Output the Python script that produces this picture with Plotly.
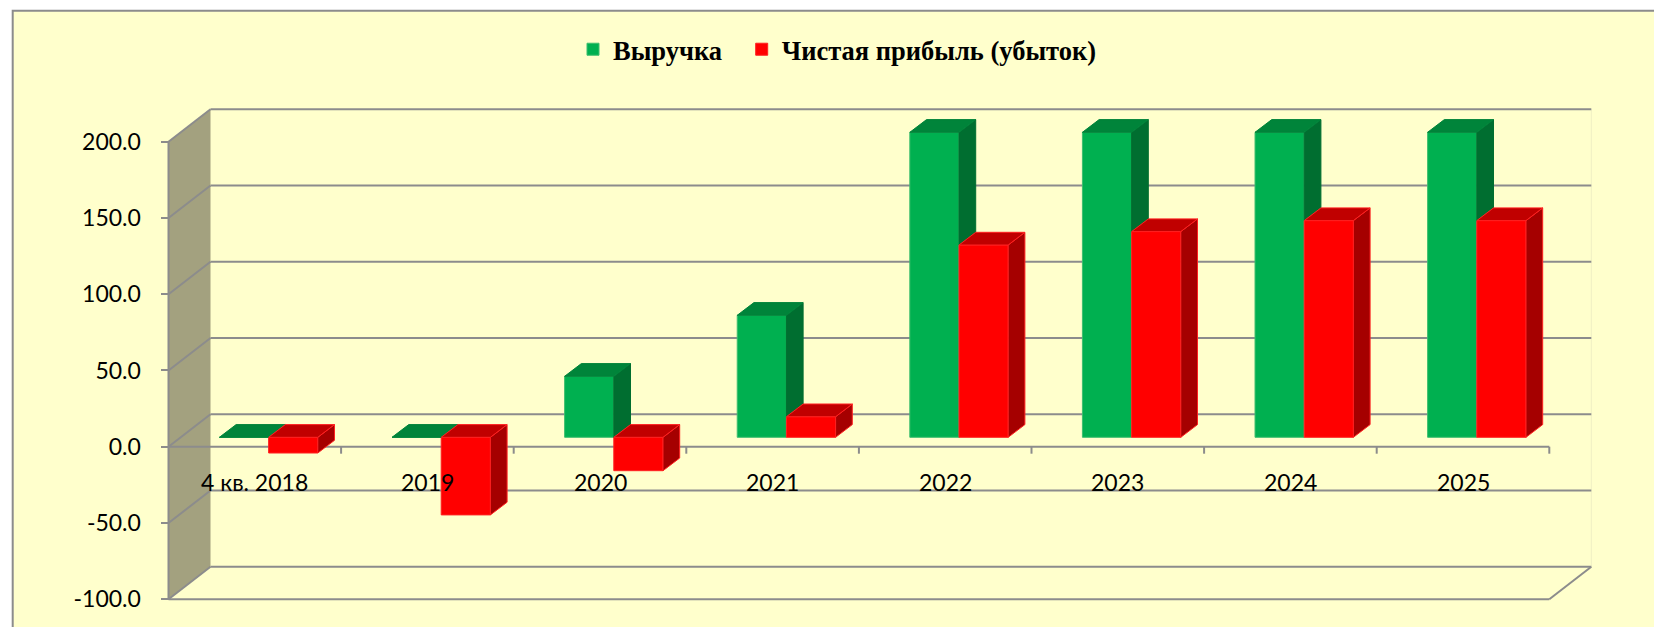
import plotly.graph_objects as go

# ---------------- data ----------------
categories = ["4 кв. 2018", "2019", "2020", "2021", "2022", "2023", "2024", "2025"]
revenue = [0, 0, 40, 80, 200, 200, 200, 200]
net_profit = [-10.3, -50.9, -21.9, 13.5, 126.1, 134.9, 142.1, 142.1]
series_names = ["Выручка", "Чистая прибыль (убыток)"]
y_tickvals = [-100, -50, 0, 50, 100, 150, 200]
y_ticktext = ["-100.0", "-50.0", "0.0", "50.0", "100.0", "150.0", "200.0"]

# ---------------- style / geometry ----------------
W, H = 1654, 627
PX_PER_CAT = 172.6
PX_PER_UNIT = 1.525
X0_PX = 168.5          # pixel of front axis (category -0.5)
Y0_PX = 446.7          # pixel of front zero line
X_RANGE = [-0.5 - X0_PX / PX_PER_CAT, -0.5 + (W - X0_PX) / PX_PER_CAT]
Y_RANGE = [-(H - Y0_PX) / PX_PER_UNIT, Y0_PX / PX_PER_UNIT]

BACK_DX = 42 / PX_PER_CAT       # depth offset of back wall
BACK_DY = 32.4 / PX_PER_UNIT
BAR_SHIFT = 0.08
BAR_W = 0.285
BAR_BASE = 9.4 / PX_PER_UNIT    # bars sit in the middle depth
DEPTH_DX = 16.7 / PX_PER_CAT
DEPTH_DY = 12.7 / PX_PER_UNIT

GRID = "#8C8C8C"
BG = "#FFFFCC"
WALL = "#A3A17F"
FONT = "Lato"
LEGEND_X_PX = [573, 741.7]

colors = [
    dict(front="#00B050", side="#006E30", top="#00843A", edge="#3DBE6E"),
    dict(front="#FF0000", side="#A50000", top="#C00000", edge="#FF2020"),
]
series_vals = [revenue, net_profit]
n = len(categories)
idx = list(range(n))

fig = go.Figure()

# front faces as real bars
for s, vals in enumerate(series_vals):
    fig.add_trace(go.Bar(
        x=[i + BAR_SHIFT + (s - 0.5) * BAR_W for i in idx],
        y=vals,
        base=[BAR_BASE] * n,
        width=BAR_W,
        name=series_names[s],
        legend="legend" if s == 0 else "legend2",
        marker=dict(color=colors[s]["front"], line=dict(color=colors[s]["edge"], width=1)),
        hovertext=categories,
        hoverinfo="text+y",
    ))

# 3D side and top faces computed from the data
def faces(s, vals, cover_levels=None):
    sx, sy, tx, ty = [], [], [], []
    for i, v in zip(idx, vals):
        L = i + BAR_SHIFT + (s - 1) * BAR_W
        R = L + BAR_W
        lo = BAR_BASE + min(v, 0)
        hi = BAR_BASE + max(v, 0)
        if cover_levels is not None:
            lo = max(lo, cover_levels[i])
        if hi > lo:
            sx += [R, R + DEPTH_DX, R + DEPTH_DX, R, R, None]
            sy += [lo, lo + DEPTH_DY, hi + DEPTH_DY, hi, lo, None]
        t = BAR_BASE + max(v, 0)
        tx += [L, R, R + DEPTH_DX, L + DEPTH_DX, L, None]
        ty += [t, t, t + DEPTH_DY, t + DEPTH_DY, t, None]
    return sx, sy, tx, ty

red_tops = [BAR_BASE + max(v, 0) for v in net_profit]
for s, vals in enumerate(series_vals):
    sx, sy, tx, ty = faces(s, vals, red_tops if s == 0 else None)
    for xs, ys, c in ((sx, sy, colors[s]["side"]), (tx, ty, colors[s]["top"])):
        if xs:
            fig.add_trace(go.Scatter(
                x=xs, y=ys, mode="lines", fill="toself", fillcolor=c,
                line=dict(color=colors[s]["edge"] if s == 1 else c, width=1),
                hoverinfo="skip", showlegend=False,
            ))

# ---------------- chart frame (walls, gridlines, axes) ----------------
shapes = []
shapes.append(dict(type="rect", xref="paper", yref="paper",
                   x0=12.7 / W, x1=1.02, y0=-0.02, y1=1 - 10.8 / H,
                   fillcolor=BG, line=dict(color=GRID, width=2), layer="below"))
ymin, ymax = min(y_tickvals), max(y_tickvals)
xl, xr = -0.5, n - 0.5
shapes.append(dict(type="path", xref="x", yref="y", layer="below",
                   path=f"M {xl},{ymin} L {xl},{ymax} L {xl + BACK_DX},{ymax + BACK_DY} "
                        f"L {xl + BACK_DX},{ymin + BACK_DY} Z",
                   fillcolor=WALL, line=dict(width=0)))
shapes.append(dict(type="line", xref="x", yref="y", layer="below",
                   x0=xr + BACK_DX, x1=xr + BACK_DX, y0=ymin + BACK_DY, y1=ymax + BACK_DY,
                   line=dict(color="#EFEFC4", width=1)))
for v in y_tickvals:
    shapes.append(dict(type="line", xref="x", yref="y", layer="below",
                       x0=xl + BACK_DX, x1=xr + BACK_DX, y0=v + BACK_DY, y1=v + BACK_DY,
                       line=dict(color=GRID, width=2)))
    shapes.append(dict(type="line", xref="x", yref="y", layer="below",
                       x0=xl, x1=xl + BACK_DX, y0=v, y1=v + BACK_DY,
                       line=dict(color=GRID, width=2)))
# floor front edge and right edge
shapes.append(dict(type="line", xref="x", yref="y", layer="below",
                   x0=xl, x1=xr, y0=ymin, y1=ymin, line=dict(color=GRID, width=2)))
shapes.append(dict(type="line", xref="x", yref="y", layer="below",
                   x0=xr, x1=xr + BACK_DX, y0=ymin, y1=ymin + BACK_DY, line=dict(color=GRID, width=2)))
# front value axis and category axis
shapes.append(dict(type="line", xref="x", yref="y", layer="below",
                   x0=xl, x1=xl, y0=ymin, y1=ymax, line=dict(color=GRID, width=2)))
shapes.append(dict(type="line", xref="x", yref="y", layer="below",
                   x0=xl, x1=xr, y0=0, y1=0, line=dict(color=GRID, width=2)))
for k in range(1, n + 1):
    shapes.append(dict(type="line", xref="x", yref="y", layer="below",
                       x0=xl + k, x1=xl + k, y0=0, y1=-7 / PX_PER_UNIT,
                       line=dict(color=GRID, width=2)))

annotations = [
    dict(x=i, y=-23.0, xref="x", yref="y", text=c, showarrow=False,
         xanchor="center", yanchor="middle", font=dict(family=FONT, size=23, color="#000000"))
    for i, c in zip(idx, categories)
]

legend_style = dict(orientation="h", xanchor="left", y=1 - 49.5 / H, yanchor="middle",
                    font=dict(family="Liberation Serif", size=26.5, color="#000000", weight="bold"),
                    bgcolor="rgba(0,0,0,0)")

fig.update_layout(
    width=W, height=H,
    margin=dict(l=0, r=0, t=0, b=0),
    paper_bgcolor="#FFFFFF",
    plot_bgcolor="rgba(0,0,0,0)",
    barmode="overlay",
    shapes=shapes,
    annotations=annotations,
    xaxis=dict(range=X_RANGE, domain=[0, 1], visible=False, fixedrange=True),
    yaxis=dict(range=Y_RANGE, domain=[0, 1], anchor="free", position=X0_PX / W,
               tickmode="array", tickvals=y_tickvals, ticktext=y_ticktext,
               ticks="outside", ticklen=8, tickwidth=2, tickcolor=GRID,
               showgrid=False, zeroline=False, showline=False,
               ticklabelstandoff=15,
               tickfont=dict(family=FONT, size=23, color="#000000"), fixedrange=True),
    legend=dict(x=LEGEND_X_PX[0] / W, **legend_style),
    legend2=dict(x=LEGEND_X_PX[1] / W, **legend_style),
    showlegend=True,
)

fig.write_html(
    "out.html",
    config={"displayModeBar": False},
    post_script="document.body.style.margin='0';document.body.style.overflow='hidden';",
)
